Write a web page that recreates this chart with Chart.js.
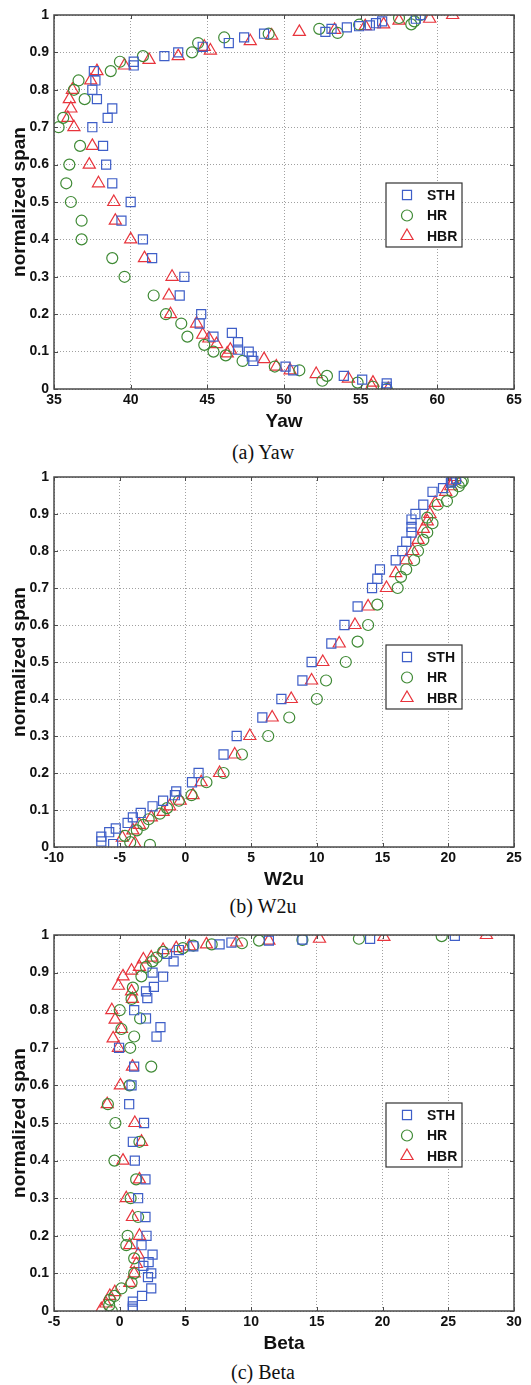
<!DOCTYPE html>
<html>
<head>
<meta charset="utf-8">
<script src="https://cdn.jsdelivr.net/npm/chart.js@4/dist/chart.umd.min.js"></script>
<style>
body{margin:0;background:#fff;width:531px;height:1385px;position:relative;overflow:hidden}
.panel{position:absolute;left:0;width:531px}
.cap{position:absolute;left:0;width:526px;text-align:center;font-family:"Liberation Serif","Times New Roman",serif;font-size:20px;line-height:23px;color:#111}
</style>
</head>
<body>
<div class="panel" style="top:0"><canvas id="yawchart" width="531" height="435"></canvas></div>
<div class="cap" style="top:441px">(a) Yaw</div>
<div class="panel" style="top:462px"><canvas id="w2uchart" width="531" height="431"></canvas></div>
<div class="cap" style="top:895px">(b) W2u</div>
<div class="panel" style="top:920px"><canvas id="betachart" width="531" height="437"></canvas></div>
<div class="cap" style="top:1361px">(c) Beta</div>
<script>
var seriesNames = ['STH', 'HR', 'HBR'];

// (a) Yaw
var yawSTHx = [58.9, 58.6, 56.4, 56.0, 55.6, 54.9, 54.1, 53.1, 52.7, 48.7, 47.4, 46.4, 44.7, 43.1, 42.2, 40.2, 40.2, 37.6, 37.7, 37.5, 37.8, 38.8, 38.5, 37.5, 38.2, 38.4, 38.8, 40.0, 39.4, 40.8, 41.4, 43.5, 43.2, 44.6, 44.5, 46.6, 45.4, 47.0, 47.0, 47.7, 47.9, 48.0, 50.1, 50.6, 53.9, 55.1, 56.7, 56.7, 56.7];
var yawSTHy = [1.0, 0.99, 0.983, 0.978, 0.972, 0.97, 0.967, 0.963, 0.955, 0.95, 0.94, 0.925, 0.915, 0.9, 0.89, 0.875, 0.865, 0.85, 0.825, 0.8, 0.775, 0.75, 0.725, 0.7, 0.65, 0.6, 0.55, 0.5, 0.45, 0.4, 0.35, 0.3, 0.25, 0.2, 0.175, 0.15, 0.14, 0.125, 0.105, 0.1, 0.087, 0.075, 0.06, 0.05, 0.035, 0.025, 0.015, 0.006, 0.0];
var yawHRx = [58.9, 58.5, 57.5, 58.3, 54.9, 53.5, 52.3, 49.0, 46.1, 44.4, 44.0, 40.8, 39.3, 38.7, 36.6, 36.3, 37.0, 35.6, 35.3, 36.7, 36.0, 35.8, 36.1, 36.8, 36.8, 38.8, 39.6, 41.5, 42.3, 43.3, 43.7, 44.8, 45.4, 46.2, 47.3, 49.4, 51.0, 52.8, 52.5, 54.8, 55.8, 56.7];
var yawHRy = [1.0, 0.983, 0.992, 0.975, 0.974, 0.952, 0.963, 0.95, 0.94, 0.925, 0.9, 0.89, 0.875, 0.85, 0.825, 0.8, 0.775, 0.725, 0.7, 0.65, 0.6, 0.55, 0.5, 0.45, 0.4, 0.35, 0.3, 0.25, 0.2, 0.175, 0.14, 0.118, 0.1, 0.09, 0.075, 0.06, 0.05, 0.035, 0.022, 0.017, 0.006, 0.0];
var yawHBRx = [61.0, 59.5, 57.5, 56.5, 55.3, 53.3, 51.0, 49.2, 47.8, 44.8, 45.2, 43.1, 41.2, 39.6, 37.8, 37.4, 36.2, 36.0, 36.1, 35.9, 36.3, 37.5, 37.3, 37.9, 38.9, 39.0, 40.0, 40.9, 42.7, 42.5, 42.6, 44.3, 44.7, 45.1, 45.6, 46.5, 46.3, 48.7, 49.5, 50.4, 52.1, 54.2, 55.8, 55.7, 56.8];
var yawHBRy = [1.0, 0.99, 0.985, 0.975, 0.97, 0.96, 0.955, 0.945, 0.93, 0.915, 0.905, 0.89, 0.88, 0.865, 0.85, 0.825, 0.8, 0.775, 0.75, 0.725, 0.7, 0.65, 0.6, 0.55, 0.5, 0.45, 0.4, 0.35, 0.3, 0.25, 0.2, 0.175, 0.145, 0.135, 0.12, 0.105, 0.095, 0.08, 0.06, 0.05, 0.04, 0.028, 0.017, 0.008, 0.0];

// (b) W2u
var w2uSTHx = [-5.5, -6.4, -6.4, -5.8, -5.3, -4.4, -4.0, -3.4, -2.5, -1.7, -0.8, -0.7, 0.5, 1.0, 2.9, 3.9, 5.85, 7.3, 8.9, 9.6, 11.1, 12.1, 13.1, 14.2, 14.6, 14.8, 16.0, 16.5, 16.8, 17.2, 17.2, 17.2, 17.5, 18.1, 18.8, 19.6, 20.2, 20.3, 20.6];
var w2uSTHy = [0.008, 0.015, 0.028, 0.04, 0.05, 0.065, 0.08, 0.092, 0.11, 0.125, 0.14, 0.15, 0.175, 0.2, 0.25, 0.3, 0.35, 0.4, 0.45, 0.5, 0.55, 0.6, 0.65, 0.7, 0.725, 0.75, 0.775, 0.8, 0.825, 0.85, 0.865, 0.885, 0.9, 0.925, 0.96, 0.97, 0.985, 0.99, 0.995];
var w2uHRx = [-2.7, -4.2, -4.6, -3.7, -3.2, -2.8, -1.95, -1.4, -0.5, 0.46, 1.6, 2.9, 4.3, 6.3, 7.9, 10.0, 10.7, 12.2, 13.1, 13.9, 14.6, 16.15, 16.4, 16.8, 17.4, 17.7, 18.1, 18.4, 18.8, 18.4, 19.2, 19.9, 20.3, 20.8, 21.0, 21.1];
var w2uHRy = [0.006, 0.013, 0.03, 0.045, 0.06, 0.075, 0.09, 0.105, 0.125, 0.14, 0.175, 0.2, 0.25, 0.3, 0.35, 0.4, 0.45, 0.5, 0.555, 0.6, 0.655, 0.7, 0.73, 0.75, 0.775, 0.8, 0.83, 0.85, 0.875, 0.89, 0.925, 0.935, 0.96, 0.975, 0.985, 0.99];
var w2uHBRx = [-3.85, -4.8, -4.0, -3.5, -2.6, -1.7, -1.2, -0.4, 0.58, 1.2, 2.6, 3.75, 4.9, 6.6, 8.05, 9.6, 10.45, 11.7, 12.9, 13.9, 15.3, 16.0, 16.8, 17.3, 17.7, 18.1, 18.4, 18.6, 19.0, 19.8, 20.2, 20.4, 20.5];
var w2uHBRy = [0.01, 0.025, 0.045, 0.06, 0.08, 0.095, 0.11, 0.125, 0.14, 0.175, 0.2, 0.25, 0.3, 0.35, 0.4, 0.45, 0.5, 0.55, 0.6, 0.65, 0.7, 0.74, 0.775, 0.8, 0.83, 0.86, 0.88, 0.9, 0.93, 0.96, 0.975, 0.99, 1.0];

// (c) Beta
var betaSTHx = [1.0, 1.0, 1.0, 1.7, 2.4, 2.15, 2.4, 1.8, 2.2, 2.5, 1.66, 2.04, 1.96, 1.4, 1.96, 1.15, 1.0, 1.85, 0.72, 0.9, 1.1, -0.05, 2.8, 3.1, 2.0, 1.1, 2.1, 2.0, 2.6, 3.3, 2.5, 4.1, 3.6, 4.5, 5.6, 7.6, 8.5, 11.35, 13.9, 19.05, 25.5];
var betaSTHy = [0.006, 0.012, 0.025, 0.04, 0.06, 0.09, 0.1, 0.12, 0.13, 0.15, 0.175, 0.2, 0.25, 0.3, 0.35, 0.4, 0.45, 0.5, 0.55, 0.6, 0.65, 0.7, 0.73, 0.755, 0.778, 0.8, 0.832, 0.85, 0.862, 0.889, 0.9, 0.93, 0.95, 0.96, 0.97, 0.975, 0.98, 0.985, 0.988, 0.99, 0.998];
var betaHRx = [-0.6, -0.8, -0.75, -0.4, 0.13, 0.9, 1.1, 1.1, 0.5, 0.6, 1.4, 0.83, 1.25, -0.4, 1.5, -0.33, -0.9, 0.75, 2.4, 0.8, 1.1, 0.13, 1.55, 0.0, 0.9, 1.0, 1.65, 2.0, 2.5, 2.8, 3.3, 4.8, 5.6, 7.0, 9.3, 10.6, 13.9, 18.2, 24.5];
var betaHRy = [0.0, 0.015, 0.03, 0.04, 0.06, 0.075, 0.1, 0.14, 0.175, 0.2, 0.25, 0.3, 0.35, 0.4, 0.45, 0.5, 0.55, 0.6, 0.65, 0.7, 0.73, 0.75, 0.778, 0.8, 0.83, 0.86, 0.89, 0.915, 0.93, 0.94, 0.955, 0.965, 0.972, 0.975, 0.978, 0.985, 0.987, 0.99, 0.997];
var betaHBRx = [-1.4, -1.05, -0.75, -0.37, 0.77, 1.1, 1.27, 1.4, 0.76, 1.5, 0.97, 0.5, 1.5, 0.25, 1.66, 1.15, -0.95, 0.05, 0.97, -0.1, -0.5, 0.13, -0.35, -0.6, 0.97, 0.9, -0.1, 0.25, 0.9, 1.5, 1.8, 2.4, 3.3, 4.3, 5.3, 6.6, 8.9, 11.35, 15.2, 20.1, 27.9];
var betaHBRy = [0.005, 0.02, 0.04, 0.05, 0.075, 0.1, 0.125, 0.15, 0.175, 0.2, 0.25, 0.3, 0.35, 0.4, 0.45, 0.5, 0.55, 0.6, 0.65, 0.7, 0.725, 0.75, 0.775, 0.8, 0.83, 0.85, 0.865, 0.89, 0.905, 0.915, 0.935, 0.94, 0.96, 0.965, 0.97, 0.975, 0.98, 0.985, 0.99, 0.995, 1.0];

var colors = ['#3f5fc8', '#3f8a35', '#e8343c'];
var styles = ['rect', 'circle', 'triangle'];
var radii = [6.4, 5.5, 7];

function pts(xs, ys) {
    var out = [];
    for (var i = 0; i < xs.length; i++) out.push({x: xs[i], y: ys[i]});
    return out;
}

function marker(ctx, style, x, y, r) {
    ctx.beginPath();
    if (style == 'rect') {
        var s = r * Math.SQRT1_2;
        ctx.rect(x - s, y - s, 2 * s, 2 * s);
    } else if (style == 'circle') {
        ctx.arc(x, y, r, 0, Math.PI * 2);
    } else {
        ctx.moveTo(x, y - r);
        ctx.lineTo(x + Math.sin(Math.PI * 2 / 3) * r, y - Math.cos(Math.PI * 2 / 3) * r);
        ctx.lineTo(x + Math.sin(Math.PI * 4 / 3) * r, y - Math.cos(Math.PI * 4 / 3) * r);
        ctx.closePath();
    }
    ctx.stroke();
}

// box, inner ticks and the legend box, MATLAB style
var framePlugin = {
    id: 'frame',
    afterDraw: function(chart) {
        var ctx = chart.ctx, a = chart.chartArea;
        var xs = chart.scales.x, ys = chart.scales.y;
        ctx.save();
        ctx.strokeStyle = '#4a4a4a';
        ctx.lineWidth = 1;
        ctx.beginPath();
        xs.ticks.forEach(function(t) {
            var px = Math.round(xs.getPixelForValue(t.value)) + 0.5;
            ctx.moveTo(px, a.bottom); ctx.lineTo(px, a.bottom - 4);
            ctx.moveTo(px, a.top); ctx.lineTo(px, a.top + 4);
        });
        ys.ticks.forEach(function(t) {
            var py = Math.round(ys.getPixelForValue(t.value)) + 0.5;
            ctx.moveTo(a.left, py); ctx.lineTo(a.left + 4, py);
            ctx.moveTo(a.right, py); ctx.lineTo(a.right - 4, py);
        });
        ctx.stroke();
        ctx.lineWidth = 1.5;
        ctx.strokeRect(a.left, a.top, a.right - a.left, a.bottom - a.top);

        var bx = a.right - 128, by = a.top + 168;
        ctx.fillStyle = '#fff';
        ctx.fillRect(bx, by, 76, 64);
        ctx.strokeStyle = '#333';
        ctx.lineWidth = 1.2;
        ctx.strokeRect(bx, by, 76, 64);
        ctx.font = 'bold 14px "Liberation Sans", Arial, sans-serif';
        ctx.textBaseline = 'middle';
        ctx.textAlign = 'left';
        for (var i = 0; i < 3; i++) {
            var ly = by + 12 + i * 20.5;
            ctx.strokeStyle = colors[i];
            ctx.lineWidth = 1.2;
            marker(ctx, styles[i], bx + 21, ly, radii[i]);
            ctx.fillStyle = '#111';
            ctx.fillText(seriesNames[i], bx + 41, ly + 1);
        }
        ctx.restore();
    }
};

var tickFont = {family: '"Liberation Sans", Arial, sans-serif', size: 14, weight: 'bold'};
var titleFont = {family: '"Liberation Sans", Arial, sans-serif', size: 19, weight: 'bold'};

function makePanel(id, xmin, xmax, xtitle, sx, sy, hx, hy, bx, by) {
    var ctx = document.getElementById(id).getContext('2d');
    var data = [pts(sx, sy), pts(hx, hy), pts(bx, by)];
    var sets = [];
    for (var i = 0; i < 3; i++) {
        sets.push({
            label: seriesNames[i],
            data: data[i],
            pointStyle: styles[i],
            pointRadius: radii[i],
            pointBorderWidth: 1.2,
            borderColor: colors[i],
            backgroundColor: 'rgba(0,0,0,0)',
            showLine: false
        });
    }
    return new Chart(ctx, {
        type: 'scatter',
        data: {datasets: sets},
        options: {
            responsive: false,
            animation: false,
            events: [],
            layout: {padding: {top: 15, right: 17, left: 0, bottom: 0}},
            plugins: {legend: {display: false}, tooltip: {enabled: false}},
            scales: {
                x: {
                    type: 'linear', min: xmin, max: xmax,
                    afterFit: function(s) { s.height = 46; },
                    ticks: {stepSize: 5, padding: 3, color: '#111', font: tickFont, maxRotation: 0},
                    grid: {color: 'rgba(120,120,120,0.7)', drawTicks: false},
                    border: {display: false, dash: [1, 2]},
                    title: {display: true, text: xtitle, color: '#111', font: titleFont, padding: {top: 0, bottom: 2}}
                },
                y: {
                    type: 'linear', min: 0, max: 1,
                    afterFit: function(s) { s.width = 54; },
                    ticks: {stepSize: 0.1, padding: 5, color: '#111', font: tickFont,
                        callback: function(v) { return (v == 0 || v == 1) ? String(v) : v.toFixed(1); }},
                    grid: {color: 'rgba(120,120,120,0.7)', drawTicks: false},
                    border: {display: false, dash: [1, 2]},
                    title: {display: true, text: 'normalized span', color: '#111', font: titleFont, padding: {top: 8, bottom: 0}}
                }
            }
        },
        plugins: [framePlugin]
    });
}

var yawchart = makePanel('yawchart', 35, 65, 'Yaw', yawSTHx, yawSTHy, yawHRx, yawHRy, yawHBRx, yawHBRy);
var w2uchart = makePanel('w2uchart', -10, 25, 'W2u', w2uSTHx, w2uSTHy, w2uHRx, w2uHRy, w2uHBRx, w2uHBRy);
var betachart = makePanel('betachart', -5, 30, 'Beta', betaSTHx, betaSTHy, betaHRx, betaHRy, betaHBRx, betaHBRy);
</script>
</body>
</html>
